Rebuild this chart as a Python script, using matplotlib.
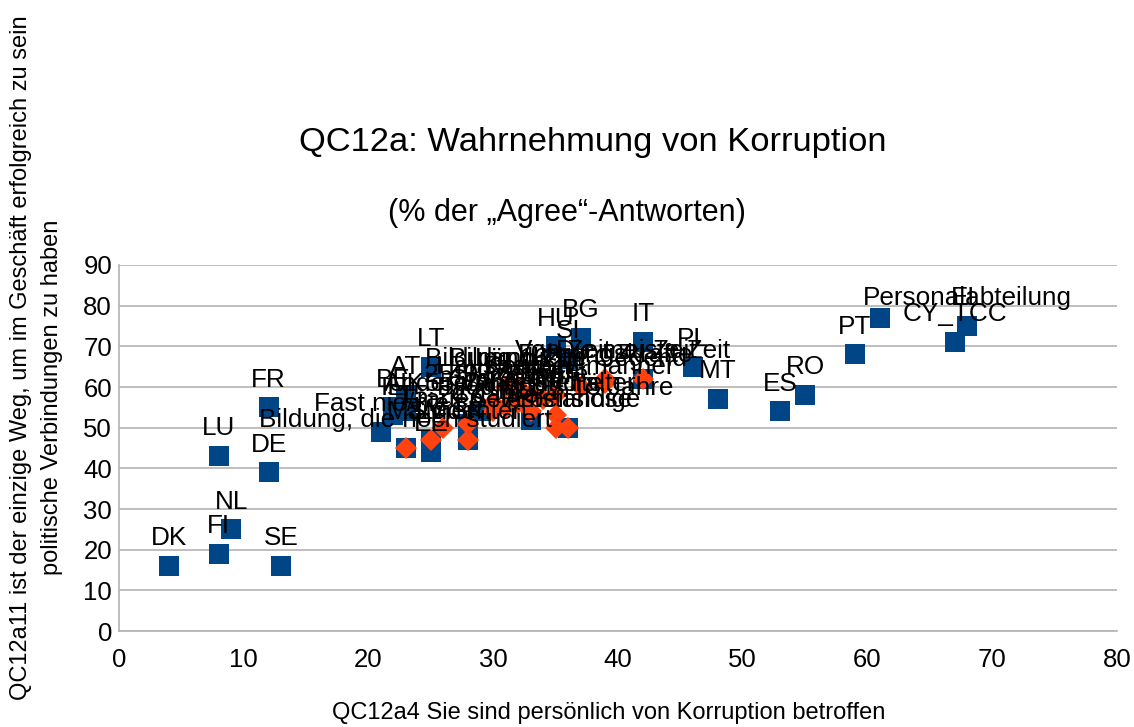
import matplotlib.pyplot as plt

# Countries (blue squares): label, x = QC12a4, y = QC12a11
countries = ["DK", "FI", "NL", "SE", "LU", "DE", "FR",
             "Fast nie/nie", "", "IE", "BE", "UK", "AT", "EE", "LV", "LT",
             "CZ", "SK", "CY", "EU27", "", "", "SI", "HU", "BG", "IT",
             "PL", "MT", "ES", "RO", "PT", "", "CY_TCC",
             "Personalabteilung", "EL"]
country_x = [4, 8, 9, 13, 8, 12, 12,
             21, 23, 22, 22, 23, 23, 25, 25, 25,
             28, 28, 29, 33, 36, 42, 36, 35, 37, 42,
             46, 48, 53, 55, 59, 61, 67,
             68, 68]
country_y = [16, 19, 25, 16, 43, 39, 55,
             49, 45, 53, 55, 54, 58, 44, 47, 65,
             51, 47, 54, 52, 50, 62, 67, 70, 72, 71,
             65, 57, 54, 58, 68, 77, 71,
             75, 75]

# Socio-demographic groups (orange diamonds)
groups = ["Bildung, die noch studiert", "Männer", "Frauen", "15-24 Jahre",
          "Studenten", "Bildung 16-19", "Bildung 20+", "25-39 Jahre",
          "Andere Angestellte", "40-54 Jahre", "Großstadt", "55 Jahre und älter",
          "Rentner", "Arbeiter", "Hausfrauen/-männer", "Bildung bis 15 Jahre",
          "Selbstständige", "Arbeitslose", "Ländliche Gegend", "Führungskräfte",
          "Von Zeit zu Zeit", "Die meiste Zeit"]
group_x = [23, 25, 26, 28,
           28, 31, 32, 30,
           30, 32, 31, 33,
           33, 34, 35, 35,
           35, 36, 37, 39,
           39, 42]
group_y = [45, 47, 50, 51,
           47, 60, 60, 56,
           54, 56, 55, 54,
           58, 57, 58, 53,
           50, 50, 60, 61,
           62, 62]

BLUE = "#004586"
ORANGE = "#ff420e"
GRID = "#b3b3b3"

plt.rcParams["font.family"] = ["Liberation Sans", "DejaVu Sans"]

fig = plt.figure(figsize=(11.34, 7.27), dpi=100)
ax = fig.add_axes([0.1049, 0.132, 0.8801, 0.5035])

ax.plot(country_x, country_y, "s", color=BLUE, markersize=14,
        markeredgewidth=0, zorder=3)
ax.plot(group_x, group_y, "D", color=ORANGE, markersize=11,
        markeredgewidth=0, zorder=4)

# Data labels centred above each point
for name, x, y in zip(countries + groups, country_x + group_x,
                      country_y + group_y):
    if name:
        ax.annotate(name, (x, y), xytext=(0, 15), textcoords="offset points",
                    ha="center", va="baseline", fontsize=18.8, zorder=5)

ax.set_xlim(0, 80)
ax.set_ylim(0, 90)
ax.set_xticks(range(0, 81, 10))
ax.set_yticks(range(0, 91, 10))
ax.tick_params(labelsize=18.5, color=GRID, length=0, pad=12)
ax.tick_params(axis="y", pad=5)
ax.grid(axis="y", color=GRID, linewidth=1.2)
ax.set_axisbelow(True)
for side in ["top", "right"]:
    ax.spines[side].set_visible(False)
for side in ["left", "bottom"]:
    ax.spines[side].set_color(GRID)
    ax.spines[side].set_linewidth(1.2)

fig.text(593 / 1134, 1 - 142 / 727, "QC12a: Wahrnehmung von Korruption",
         ha="center", va="center", fontsize=24.8)
fig.text(567 / 1134, 1 - 213 / 727, "(% der „Agree“-Antworten)",
         ha="center", va="center", fontsize=22)
fig.text(609 / 1134, 1 - 713 / 727,
         "QC12a4 Sie sind persönlich von Korruption betroffen",
         ha="center", va="center", fontsize=17)
fig.text(21 / 1134, 1 - 358 / 727,
         "QC12a11 ist der einzige Weg, um im Geschäft erfolgreich zu sein",
         ha="center", va="center", rotation=90, fontsize=17)
fig.text(52 / 1134, 1 - 397 / 727, "politische Verbindungen zu haben",
         ha="center", va="center", rotation=90, fontsize=17)

fig.savefig("out.png", dpi=100)
